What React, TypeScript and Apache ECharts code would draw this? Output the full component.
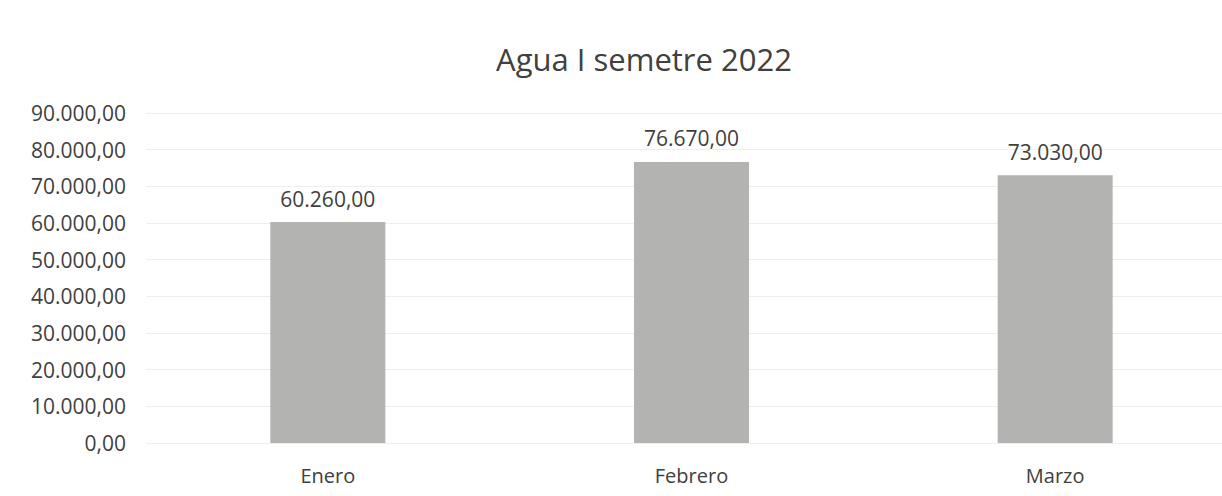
import React, { useEffect, useRef } from "react";
import * as echarts from "echarts";

const categories = ["Enero", "Febrero", "Marzo"];
const values = [60260, 76670, 73030];
const titleText = "Agua I semetre 2022";

const fmt = (v: number) => {
  const parts = v.toFixed(2).split(".");
  const intPart = parts[0].replace(/\B(?=(\d{3})+(?!\d))/g, ".");
  return intPart + "," + parts[1];
};

const FONT = "'Open Sans', 'Noto Sans', sans-serif";

export default function App() {
  const ref = useRef<HTMLDivElement>(null);
  useEffect(() => {
    if (!ref.current) return;
    const chart = echarts.init(ref.current, null, { renderer: "svg" });
    chart.setOption({
      animation: false,
      backgroundColor: "#ffffff",
      title: {
        text: titleText,
        left: 639,
        top: 38,
        textAlign: "center",
        textStyle: { fontFamily: FONT, fontSize: 31, fontWeight: "normal", color: "#404040" },
      },
      grid: { left: 146, width: 1091, top: 113, height: 330, outerBoundsMode: "none", containLabel: false },
      xAxis: {
        type: "category",
        data: categories,
        axisLine: { show: false },
        axisTick: { show: false },
        axisLabel: { fontFamily: FONT, fontSize: 20, color: "#404040", margin: 22 },
      },
      yAxis: {
        type: "value",
        min: 0,
        max: 90000,
        interval: 10000,
        axisLine: { show: false },
        axisTick: { show: false },
        splitLine: { lineStyle: { color: "#eeeeee", width: 1 } },
        axisLabel: {
          fontFamily: FONT,
          fontSize: 21,
          color: "#404040",
          margin: 20,
          formatter: (v: number) => fmt(v),
        },
      },
      series: [
        {
          type: "bar",
          data: values,
          barWidth: 115,
          itemStyle: { color: "#b3b3b1" },
          label: {
            show: true,
            position: "top",
            distance: 13,
            fontFamily: FONT,
            fontSize: 21,
            color: "#404040",
            formatter: (p: any) => fmt(p.value),
          },
        },
      ],
    });
    return () => chart.dispose();
  }, []);
  return (
    <div
      ref={ref}
      style={{ position: "absolute", left: 0, top: 0, width: 1222, height: 496 }}
    />
  );
}
